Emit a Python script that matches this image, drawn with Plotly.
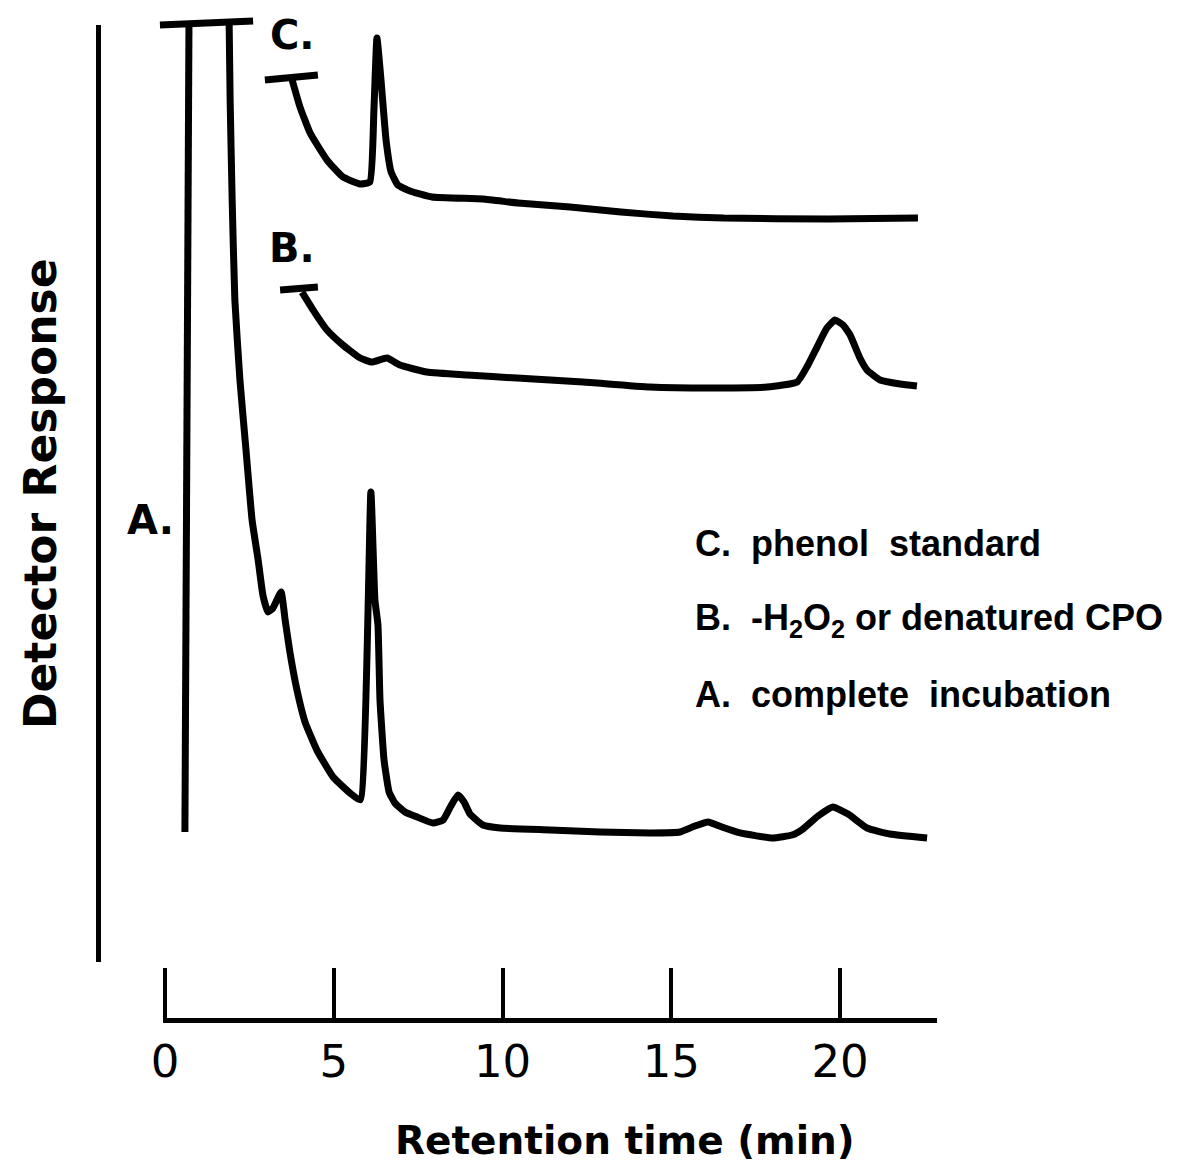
import plotly.graph_objects as go

# retention time (min) / detector response (arbitrary units, 0-100 = height of response axis)

# trace A - complete incubation (solvent front drawn as separate strokes)
a_time = [0.59, 0.71, None, -0.15, 2.61, None,
          1.90, 1.93, 1.99, 2.07, 2.22, 2.40, 2.58, 2.76, 2.90, 3.05, 3.20, 3.44,
          3.56, 3.70, 3.91, 4.15, 4.50, 4.98, 5.48, 5.78, 6.10, 6.22, 6.31, 6.37,
          6.49, 6.64, 6.81, 7.11, 7.47, 7.94, 8.24, 8.47, 8.68, 8.86, 9.04, 9.42,
          9.93, 11.41, 12.89, 14.37, 15.26, 15.70, 16.09, 16.50, 17.04, 18.01,
          18.58, 18.90, 19.35, 19.79, 20.24, 20.80, 21.48, 22.58]
a_resp = [13.87, 100.0, None, 100.0, 100.42, None,
          100.32, 91.99, 81.32, 70.65, 62.11, 54.64, 47.17, 42.90, 39.17, 37.35, 37.78, 39.49,
          36.50, 33.08, 29.03, 25.61, 22.62, 19.74, 18.04, 17.29, 50.16, 38.63, 35.97, 27.96,
          21.56, 18.14, 16.97, 16.01, 15.47, 14.83, 15.15, 16.65, 17.82, 17.08, 15.79, 14.62,
          14.30, 14.09, 13.87, 13.77, 13.87, 14.51, 14.94, 14.41, 13.77, 13.23,
          13.55, 14.19, 15.58, 16.54, 15.79, 14.30, 13.66, 13.23]

# trace B - minus H2O2 or denatured CPO
b_time = [3.41, 4.53, None,
          4.06, 4.39, 4.80, 5.27, 5.78, 6.13, 6.58, 6.96, 7.76, 8.95, 10.43, 12.39,
          14.37, 16.36, 17.84, 18.73, 19.05, 19.32, 19.61, 19.85, 20.09, 20.30,
          20.59, 20.80, 21.19, 21.78, 22.28]
b_resp = [71.72, 72.04, None,
          71.50, 69.58, 67.45, 65.85, 64.46, 64.03, 64.46, 63.71, 62.96, 62.64, 62.32, 61.90,
          61.36, 61.26, 61.36, 61.90, 63.71, 65.63, 67.66, 68.51, 67.98, 66.91,
          64.46, 63.18, 62.11, 61.68, 61.47]

# trace C - phenol standard
c_time = [2.96, 4.53, None,
          3.76, 4.00, 4.30, 4.80, 5.27, 5.78, 6.07, 6.19, 6.28, 6.40, 6.55, 6.70,
          6.90, 7.26, 7.91, 9.42, 10.46, 12.00, 13.51, 15.05, 16.56, 19.64, 22.31]
c_resp = [94.13, 94.66, None,
          94.23, 91.25, 88.47, 85.59, 83.78, 83.03, 83.24, 90.93, 98.61, 94.13, 87.72, 84.31,
          82.92, 82.28, 81.64, 81.43, 81.00, 80.57, 80.04, 79.61, 79.40, 79.29, 79.40]

tick_vals = [0, 5, 10, 15, 20]
legend_lines = ["C.  phenol  standard",
                "B.  -H<sub>2</sub>O<sub>2</sub> or denatured CPO",
                "A.  complete  incubation"]

W, H = 1187, 1173
round_font = "DejaVu Sans"
narrow_font = "Liberation Sans, Arial, sans-serif"

fig = go.Figure()
for t, r in [(a_time, a_resp), (b_time, b_resp), (c_time, c_resp)]:
    fig.add_trace(go.Scatter(x=t, y=r, mode="lines",
                             line=dict(color="black", width=7, shape="spline", smoothing=0.4),
                             hoverinfo="skip", showlegend=False))

# empty traces so the drawn axes exist
fig.add_trace(go.Scatter(x=[None], y=[None], xaxis="x2", yaxis="y2", showlegend=False))
fig.add_trace(go.Scatter(x=[None], y=[None], xaxis="x", yaxis="y3", showlegend=False))

# curve labels
for txt, t, r in [("C.", 3.79, 98.9), ("B.", 3.76, 76.2), ("A.", -0.44, 47.2)]:
    fig.add_annotation(x=t, y=r, text=txt, showarrow=False,
                       font=dict(family=round_font, size=40, color="black", weight="bold"))

# legend text
for txt, r in zip(legend_lines, [44.7, 36.5, 28.5]):
    fig.add_annotation(x=15.64, y=r, text=txt, showarrow=False,
                       xanchor="left", yanchor="middle",
                       font=dict(family=narrow_font, size=36, color="black", weight="bold"))

# axis titles
fig.add_annotation(x=625 / W, y=1 - 1140 / H, xref="paper", yref="paper",
                   xanchor="center", yanchor="middle",
                   text="Retention time (min)", showarrow=False,
                   font=dict(family=round_font, size=39, color="black", weight="bold"))
fig.add_annotation(x=40 / W, y=1 - 494 / H, xref="paper", yref="paper",
                   xanchor="center", yanchor="middle",
                   text="Detector Response", showarrow=False, textangle=-90,
                   font=dict(family=round_font, size=44, color="black", weight="bold"))

px_per_min = 33.75
x0 = -165 / px_per_min
fig.update_layout(
    width=W, height=H, template="none",
    margin=dict(l=0, r=0, t=0, b=0),
    paper_bgcolor="white", plot_bgcolor="rgba(0,0,0,0)",
    xaxis=dict(domain=[0, 1], range=[x0, x0 + W / px_per_min], visible=False),
    yaxis=dict(domain=[0, 1], range=[-22.52, 102.67], visible=False),
    xaxis2=dict(domain=[163 / W, 937 / W], range=[-2 / px_per_min, 772 / px_per_min],
                anchor="y2", showline=True, linewidth=5, linecolor="black",
                ticks="inside", ticklen=50, tickwidth=4, tickcolor="black",
                tickvals=tick_vals, ticklabelstandoff=0,
                tickfont=dict(family=round_font, size=45, color="black"),
                showgrid=False, zeroline=False, automargin=False),
    yaxis2=dict(domain=[(H - 1018) / H, 0.2], anchor="x2", visible=False, range=[0, 1]),
    yaxis3=dict(domain=[(H - 962) / H, (H - 25) / H], range=[0, 100],
                anchor="free", position=98 / W, showline=True, linewidth=5,
                linecolor="black", ticks="", showticklabels=False,
                showgrid=False, zeroline=False, automargin=False),
)

# page has a default 8px body margin - drop it so the figure sits at the corner
fig.write_html("out.html", config=dict(displayModeBar=False),
               post_script="document.body.style.margin='0';")
